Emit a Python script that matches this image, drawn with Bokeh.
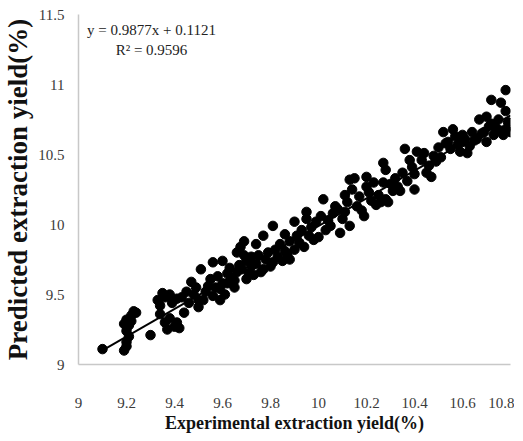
from bokeh.plotting import figure
from bokeh.models import Range1d, FixedTicker, Label, ColumnDataSource
from bokeh.embed import file_html
from bokeh.resources import INLINE

# ---- data ----
exp_9_1 = [9.10, 9.19, 9.20, 9.20, 9.21, 9.20, 9.21, 9.20, 9.22, 9.23, 9.24, 9.22, 9.19, 9.30]
pred_9_1 = [9.11, 9.10, 9.13, 9.16, 9.20, 9.24, 9.28, 9.32, 9.35, 9.38, 9.37, 9.31, 9.29, 9.21]

exp_9_3 = [9.33, 9.34, 9.35, 9.36, 9.38, 9.34, 9.36, 9.37, 9.38, 9.40, 9.41, 9.42, 9.39, 9.44, 9.43, 9.45, 9.41]
pred_9_3 = [9.46, 9.42, 9.51, 9.48, 9.50, 9.36, 9.30, 9.25, 9.33, 9.27, 9.30, 9.26, 9.44, 9.37, 9.48, 9.52, 9.47]

exp_9_45 = [9.47, 9.48, 9.50, 9.50, 9.51, 9.52, 9.53, 9.54, 9.55, 9.56, 9.56, 9.57, 9.58, 9.59, 9.59,
            9.60, 9.60, 9.61, 9.62, 9.62, 9.49, 9.46]
pred_9_45 = [9.59, 9.50, 9.41, 9.46, 9.68, 9.46, 9.52, 9.56, 9.61, 9.73, 9.49, 9.55, 9.63, 9.46, 9.54,
             9.74, 9.58, 9.50, 9.58, 9.65, 9.55, 9.44]

exp_9_6 = [9.63, 9.64, 9.65, 9.65, 9.66, 9.67, 9.675, 9.68, 9.69, 9.69, 9.70, 9.70, 9.71, 9.72, 9.73,
           9.74, 9.74, 9.75, 9.76, 9.77, 9.77, 9.78, 9.79, 9.80, 9.66, 9.72]
pred_9_6 = [9.69, 9.62, 9.55, 9.60, 9.66, 9.71, 9.84, 9.68, 9.88, 9.78, 9.61, 9.74, 9.65, 9.70, 9.64,
            9.86, 9.72, 9.78, 9.66, 9.92, 9.68, 9.75, 9.80, 9.70, 9.80, 9.77]

exp_9_8 = [9.81, 9.81, 9.82, 9.83, 9.84, 9.85, 9.86, 9.87, 9.88, 9.88, 9.90, 9.90, 9.91, 9.92, 9.93,
           9.94, 9.95, 9.95, 9.96, 9.97, 9.98, 10.00, 9.99, 9.86]
pred_9_8 = [9.99, 9.73, 9.82, 9.77, 9.86, 9.74, 9.81, 9.79, 9.75, 9.88, 10.02, 9.82, 9.92, 9.87, 9.96,
            9.84, 10.09, 10.04, 9.92, 9.98, 9.89, 9.91, 10.02, 9.93]

exp_10_0 = [10.01, 10.02, 10.03, 10.04, 10.05, 10.06, 10.07, 10.08, 10.09, 10.10, 10.11, 10.12, 10.13,
            10.13, 10.14, 10.15, 10.16, 10.17, 10.18, 10.19, 10.20, 10.20, 10.11]
pred_10_0 = [10.06, 10.18, 9.96, 10.03, 9.99, 10.08, 10.13, 10.11, 9.94, 10.04, 10.09, 10.16, 10.32,
             9.99, 10.25, 10.33, 10.13, 10.20, 10.10, 10.06, 10.34, 10.27, 10.21]

exp_10_2 = [10.21, 10.22, 10.23, 10.24, 10.25, 10.26, 10.27, 10.27, 10.28, 10.28, 10.29, 10.30, 10.31,
            10.32, 10.33, 10.34, 10.35, 10.36, 10.37, 10.38, 10.39, 10.40, 10.41, 10.40]
pred_10_2 = [10.23, 10.17, 10.30, 10.14, 10.21, 10.16, 10.44, 10.30, 10.39, 10.18, 10.16, 10.29, 10.24,
             10.33, 10.27, 10.24, 10.37, 10.54, 10.31, 10.46, 10.41, 10.25, 10.52, 10.36]

exp_10_4 = [10.43, 10.44, 10.45, 10.46, 10.47, 10.48, 10.49, 10.50, 10.51, 10.52, 10.53, 10.54, 10.55,
            10.56, 10.57, 10.58, 10.59, 10.60, 10.60]
pred_10_4 = [10.46, 10.51, 10.37, 10.42, 10.34, 10.49, 10.45, 10.55, 10.48, 10.66, 10.58, 10.59, 10.54,
             10.68, 10.63, 10.57, 10.52, 10.59, 10.64]

exp_10_6 = [10.61, 10.62, 10.63, 10.64, 10.65, 10.66, 10.67, 10.68, 10.69, 10.70, 10.70, 10.71, 10.72,
            10.72, 10.73, 10.74, 10.75, 10.76, 10.76, 10.77, 10.78, 10.78, 10.78, 10.79, 10.80]
pred_10_6 = [10.61, 10.51, 10.56, 10.66, 10.60, 10.61, 10.75, 10.65, 10.66, 10.77, 10.59, 10.70, 10.89,
             10.72, 10.64, 10.69, 10.75, 10.87, 10.67, 10.64, 10.81, 10.96, 10.68, 10.73, 10.66]

experimental = (exp_9_1 + exp_9_3 + exp_9_45 + exp_9_6 + exp_9_8 + exp_10_0 + exp_10_2
                + exp_10_4 + exp_10_6)
predicted = (pred_9_1 + pred_9_3 + pred_9_45 + pred_9_6 + pred_9_8 + pred_10_0 + pred_10_2
             + pred_10_4 + pred_10_6)

slope = 0.9877
intercept = 0.1121
equation_text = "y = 0.9877x + 0.1121"
r2_text = "R² = 0.9596"

x_ticks = [9, 9.2, 9.4, 9.6, 9.8, 10, 10.2, 10.4, 10.6, 10.8]
x_tick_labels = ["9", "9.2", "9.4", "9.6", "9.8", "10", "10.2", "10.4", "10.6", "10.8"]
y_ticks = [9, 9.5, 10, 10.5, 11, 11.5]
y_tick_labels = ["9", "9.5", "10", "10.5", "11", "11.5"]

x_title = "Experimental extraction yield(%)"
y_title = "Predicted extraction yield(%)"

# ---- figure ----
SERIF = "Liberation Serif"

p = figure(frame_width=432, frame_height=350, output_backend="svg", toolbar_location=None,
           x_range=Range1d(9, 10.8), y_range=Range1d(9, 11.5),
           min_border_left=0, min_border_right=4, min_border_top=14, min_border_bottom=0)
p.title.visible = False
p.outline_line_color = None
p.xgrid.visible = False
p.ygrid.visible = False
p.background_fill_color = "white"

for ax, ticks, labels in ((p.xaxis[0], x_ticks, x_tick_labels), (p.yaxis[0], y_ticks, y_tick_labels)):
    ax.ticker = FixedTicker(ticks=ticks)
    ax.major_label_overrides = {t: l for t, l in zip(ticks, labels)}
    ax.major_tick_line_color = None
    ax.minor_tick_line_color = None
    ax.major_tick_out = 0
    ax.major_tick_in = 0
    ax.minor_tick_out = 0
    ax.minor_tick_in = 0
    ax.axis_line_color = "#c8c8c8"
    ax.axis_line_width = 1.5
    ax.major_label_text_font = SERIF
    ax.major_label_text_font_size = "15px"
    ax.major_label_text_color = "#3a3a3a"
    ax.axis_label_text_font = SERIF
    ax.axis_label_text_font_style = "bold"
    ax.axis_label_text_color = "#111111"

p.xaxis.axis_label = x_title
p.xaxis.axis_label_text_font_size = "18px"
p.xaxis.major_label_standoff = 33
p.xaxis.axis_label_standoff = 2

p.yaxis.axis_label = y_title
p.yaxis.axis_label_text_font_size = "27px"
p.yaxis.major_label_standoff = 14
p.yaxis.axis_label_standoff = 2

src = ColumnDataSource(dict(x=experimental, y=predicted))
p.scatter("x", "y", source=src, size=9.5, fill_color="black", line_color="black", marker="circle")

x_line = [min(experimental), max(experimental)]
y_line = [slope * v + intercept for v in x_line]
p.line(x_line, y_line, line_color="black", line_width=2)

p.add_layout(Label(x=73, y=335, x_units="screen", y_units="screen", text=equation_text,
                   text_align="center", text_baseline="middle", text_font=SERIF,
                   text_font_size="15px", text_color="#222222"))
p.add_layout(Label(x=73, y=315, x_units="screen", y_units="screen", text=r2_text,
                   text_align="center", text_baseline="middle", text_font=SERIF,
                   text_font_size="15px", text_color="#222222"))

open("out.html", "w").write(file_html(p, INLINE))
